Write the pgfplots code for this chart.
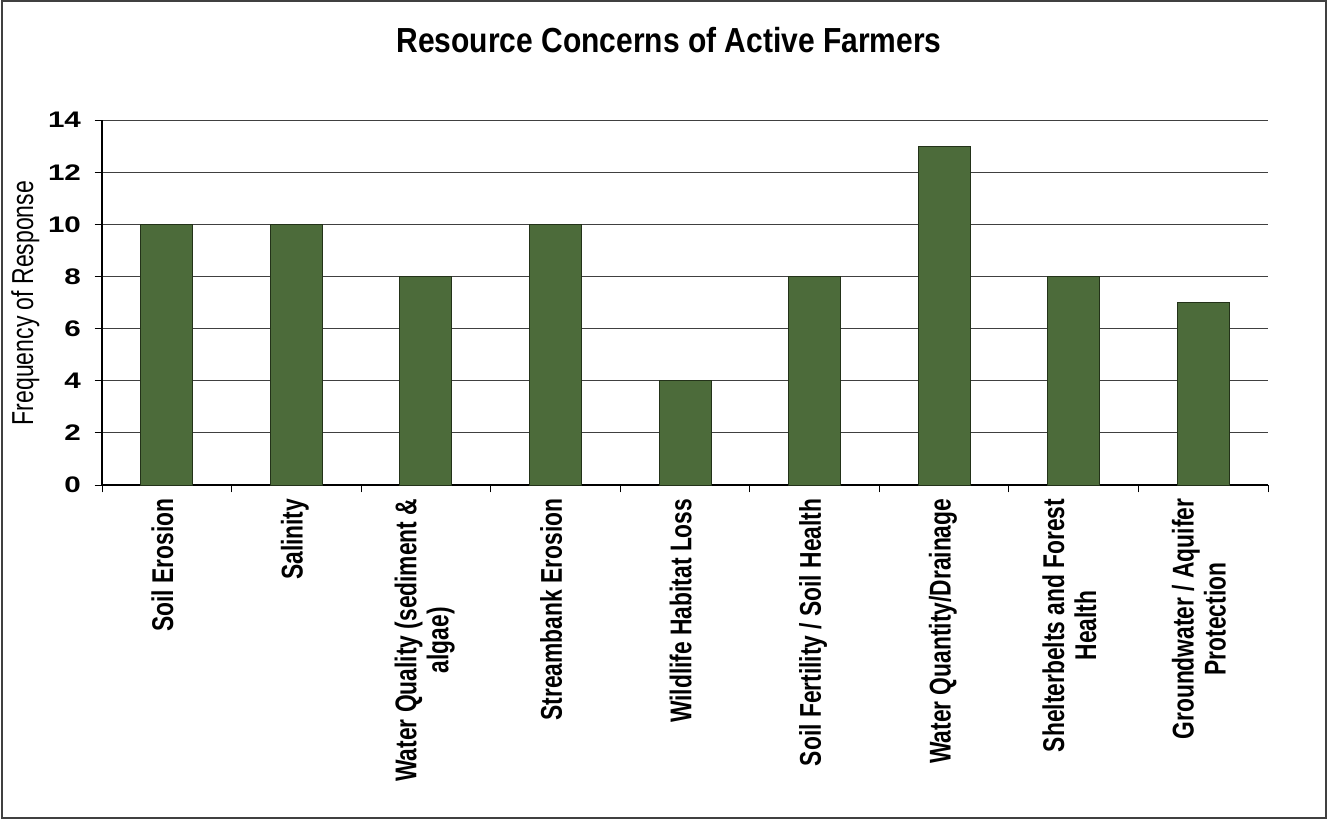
\documentclass[border=0pt]{standalone}
\usepackage{pgfplots}
\pgfplotsset{compat=1.18}
\usepackage{fontspec}
\setmainfont{Liberation Sans}
\definecolor{barfill}{RGB}{76,107,58}
\definecolor{baredge}{RGB}{35,50,25}
\newcommand{\xl}[1]{\scalebox{0.76}[1]{\fontsize{22.5}{24}\selectfont\bfseries\begin{tabular}{@{}c@{}}#1\end{tabular}}}
\begin{document}
\begin{tikzpicture}[x=0.75pt,y=0.75pt]
\path[use as bounding box] (0,0) rectangle (1328,819);
\draw[line width=1.2pt, black!75] (2,1) rectangle (1326,818);
\begin{axis}[
  at={(76.5pt,250.5pt)}, anchor=south west,
  scale only axis, width=874.5pt, height=273.75pt,
  xmin=-0.5, xmax=8.5, ymin=0, ymax=14,
  ytick={0,2,...,14},
  xtick={-0.5,0.5,1.5,2.5,3.5,4.5,5.5,6.5,7.5,8.5},
  x tick label as interval,
  xticklabels={{\xl{Soil Erosion}},{\xl{Salinity}},{\xl{Water Quality (sediment \&\\algae)}},{\xl{Streambank Erosion}},{\xl{Wildlife Habitat Loss}},{\xl{Soil Fertility / Soil Health}},{\xl{Water Quantity/Drainage}},{\xl{Shelterbelts and Forest\\Health}},{\xl{Groundwater / Aquifer\\Protection}}},
  axis x line*=bottom, axis y line*=left,
  axis line style={black, line width=0.9pt},
  tick align=outside,
  major tick length=5.6pt,
  tick style={black, line width=0.75pt},
  ymajorgrids, grid style={black!75, line width=0.75pt},
  xticklabel style={rotate=90, anchor=east, inner sep=0pt},
  xticklabel shift=4.5pt,
  /pgf/number format/assume math mode=true,
  yticklabel style={anchor=east, inner sep=0pt, font=\fontsize{22.2}{24}\selectfont\bfseries},
  yticklabel={\scalebox{1}[0.76]{\pgfmathprintnumber{\tick}}},
  yticklabel shift=10pt,
]
\addplot[ybar, bar width=39pt, fill=barfill, draw=baredge, line width=0.6pt]
  coordinates {(0,10) (1,10) (2,8) (3,10) (4,4) (5,8) (6,13) (7,8) (8,7)};
\end{axis}
\node[anchor=base, inner sep=0pt] at (669,766)
  {\fontsize{22.5}{27}\selectfont\bfseries\scalebox{1}[1.16]{Resource Concerns of Active Farmers}};
\node[rotate=90, anchor=base, inner sep=0pt] at (33,516)
  {\fontsize{22.7}{27}\selectfont\scalebox{0.76}[1]{Frequency of Response}};
\end{tikzpicture}
\end{document}
